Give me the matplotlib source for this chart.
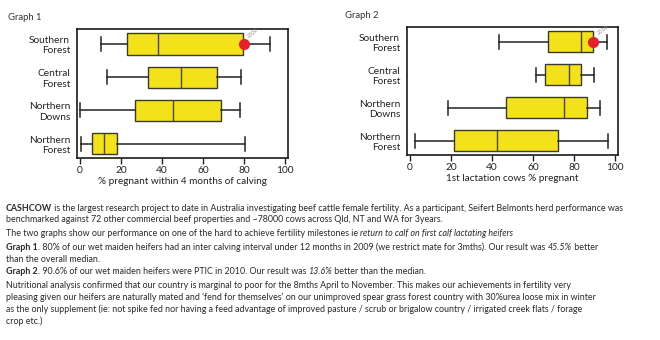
import matplotlib
matplotlib.use("Agg")
import matplotlib.pyplot as plt

plt.rcParams["font.family"] = ["Lato", "DejaVu Sans"]

# categories, top to bottom
regions = ["Southern\nForest", "Central\nForest", "Northern\nDowns", "Northern\nForest"]

# Graph 1: % pregnant within 4 months of calving
g1_lo = [10, 13, 0, 0.5]
g1_q1 = [23, 33, 27, 6]
g1_med = [38, 49.5, 45.5, 11.5]
g1_q3 = [79.5, 67, 69, 18]
g1_hi = [92.5, 78.5, 78, 80.5]
g1_ours = 80
g1_year = "2009"

# Graph 2: 1st lactation cows % pregnant
g2_lo = [43.5, 61.5, 18.5, 2.5]
g2_q1 = [67.5, 66, 47, 21.5]
g2_med = [83.5, 77.5, 75, 42.5]
g2_q3 = [89.5, 83.5, 86.5, 72]
g2_hi = [96, 90, 92.5, 96.5]
g2_ours = 89.5
g2_year = "2010"

YELLOW = "#f3e21a"
W, H = 660, 340

fig = plt.figure(figsize=(6.6, 3.4), dpi=100)
fig.patch.set_facecolor("white")


def px_axes(left, top, right, bottom):
    return fig.add_axes([left / W, 1 - bottom / H, (right - left) / W, (bottom - top) / H])


def draw_graph(ax, lo, q1, med, q3, hi, ours, year, xlabel):
    stats = []
    for i in range(len(regions)):
        stats.append({"whislo": lo[i], "q1": q1[i], "med": med[i], "q3": q3[i],
                      "whishi": hi[i], "fliers": []})
    pos = list(range(len(regions) - 1, -1, -1))
    ax.bxp(stats, positions=pos, orientation="horizontal", widths=0.64,
           capwidths=0.42, patch_artist=True, showfliers=False,
           boxprops=dict(facecolor=YELLOW, edgecolor="#3a3a2a", linewidth=1.0),
           medianprops=dict(color="#4a4530", linewidth=1.0),
           whiskerprops=dict(color="#222222", linewidth=1.1),
           capprops=dict(color="#222222", linewidth=1.1))
    ax.plot([ours], [pos[0]], "o", color="#e8202a", markersize=7, zorder=5,
            clip_on=False)
    ax.annotate(year, xy=(ours, pos[0]), xytext=(2, 4), textcoords="offset points",
                fontsize=4, color="#909090", rotation=35, ha="left", va="bottom",
                annotation_clip=False)
    ax.set_xlim(-1.5, 101.5)
    ax.set_ylim(-0.43, 3.45)
    ax.set_xticks([0, 20, 40, 60, 80, 100])
    ax.tick_params(axis="x", direction="out", length=4, width=1.0, labelsize=7.3,
                   pad=1.5, colors="#222222")
    ax.set_yticks(pos)
    ax.set_yticklabels(regions, fontsize=7.3, ha="right", color="#222222")
    ax.tick_params(axis="y", length=0, pad=5)
    ax.set_xlabel(xlabel, fontsize=7.2, labelpad=2, color="#222222")
    for s in ax.spines.values():
        s.set_linewidth(1.2)
        s.set_color("#1a1a1a")


ax1 = px_axes(77, 29, 288, 158)
draw_graph(ax1, g1_lo, g1_q1, g1_med, g1_q3, g1_hi, g1_ours, g1_year,
           "% pregnant within 4 months of calving")
ax2 = px_axes(407, 27, 618, 155)
draw_graph(ax2, g2_lo, g2_q1, g2_med, g2_q3, g2_hi, g2_ours, g2_year,
           "1st lactation cows % pregnant")

fig.text(8 / W, 1 - 18 / H, "Graph 1", fontsize=6.8, va="center", color="#333333")
fig.text(345 / W, 1 - 16 / H, "Graph 2", fontsize=6.8, va="center", color="#333333")

# paragraph text, each line a list of (text, weight, style) runs
lines = [
    (208, [("CASHCOW", "bold", "normal"),
           (" is the largest research project to date in Australia investigating beef cattle female fertility. "
            "As a participant, Seifert Belmonts herd performance was", "normal", "normal")]),
    (220, [("benchmarked against 72 other commercial beef properties and ~78000 cows across Qld, NT and WA for 3years.",
            "normal", "normal")]),
    (233, [("The two graphs show our performance on one of the hard to achieve fertility milestones ie ", "normal", "normal"),
           ("return to calf on first calf lactating heifers", "normal", "italic")]),
    (247, [("Graph 1", "bold", "normal"),
           (". 80% of our wet maiden heifers had an inter calving interval under 12 months in 2009 "
            "(we restrict mate for 3mths). Our result was ", "normal", "normal"),
           ("45.5%", "normal", "italic"), (" better", "normal", "normal")]),
    (259, [("than the overall median.", "normal", "normal")]),
    (272, [("Graph 2", "bold", "normal"),
           (". 90.6% of our wet maiden heifers were PTIC in 2010. Our result was ", "normal", "normal"),
           ("13.6%", "normal", "italic"), (" better than the median.", "normal", "normal")]),
    (285, [("Nutritional analysis confirmed that our country is marginal to poor for the 8mths April to November. "
            "This makes our achievements in fertility very", "normal", "normal")]),
    (297, [("pleasing given our heifers are naturally mated and \u2018fend for themselves\u2019 on our unimproved spear "
            "grass forest country with 30%urea loose mix in winter", "normal", "normal")]),
    (309, [("as the only supplement (ie: not spike fed nor having a feed advantage of improved pasture / scrub or "
            "brigalow country / irrigated creek flats / forage", "normal", "normal")]),
    (321, [("crop etc.)", "normal", "normal")]),
]

renderer = fig.canvas.get_renderer()
for y, runs in lines:
    x = 6
    for txt, weight, style in runs:
        t = fig.text(x / W, 1 - y / H, txt, fontsize=6.4, fontweight=weight,
                     fontstyle=style, va="center", ha="left", color="#2a2a2a")
        x += t.get_window_extent(renderer).width

fig.savefig("out.png", dpi=100, facecolor="white")
